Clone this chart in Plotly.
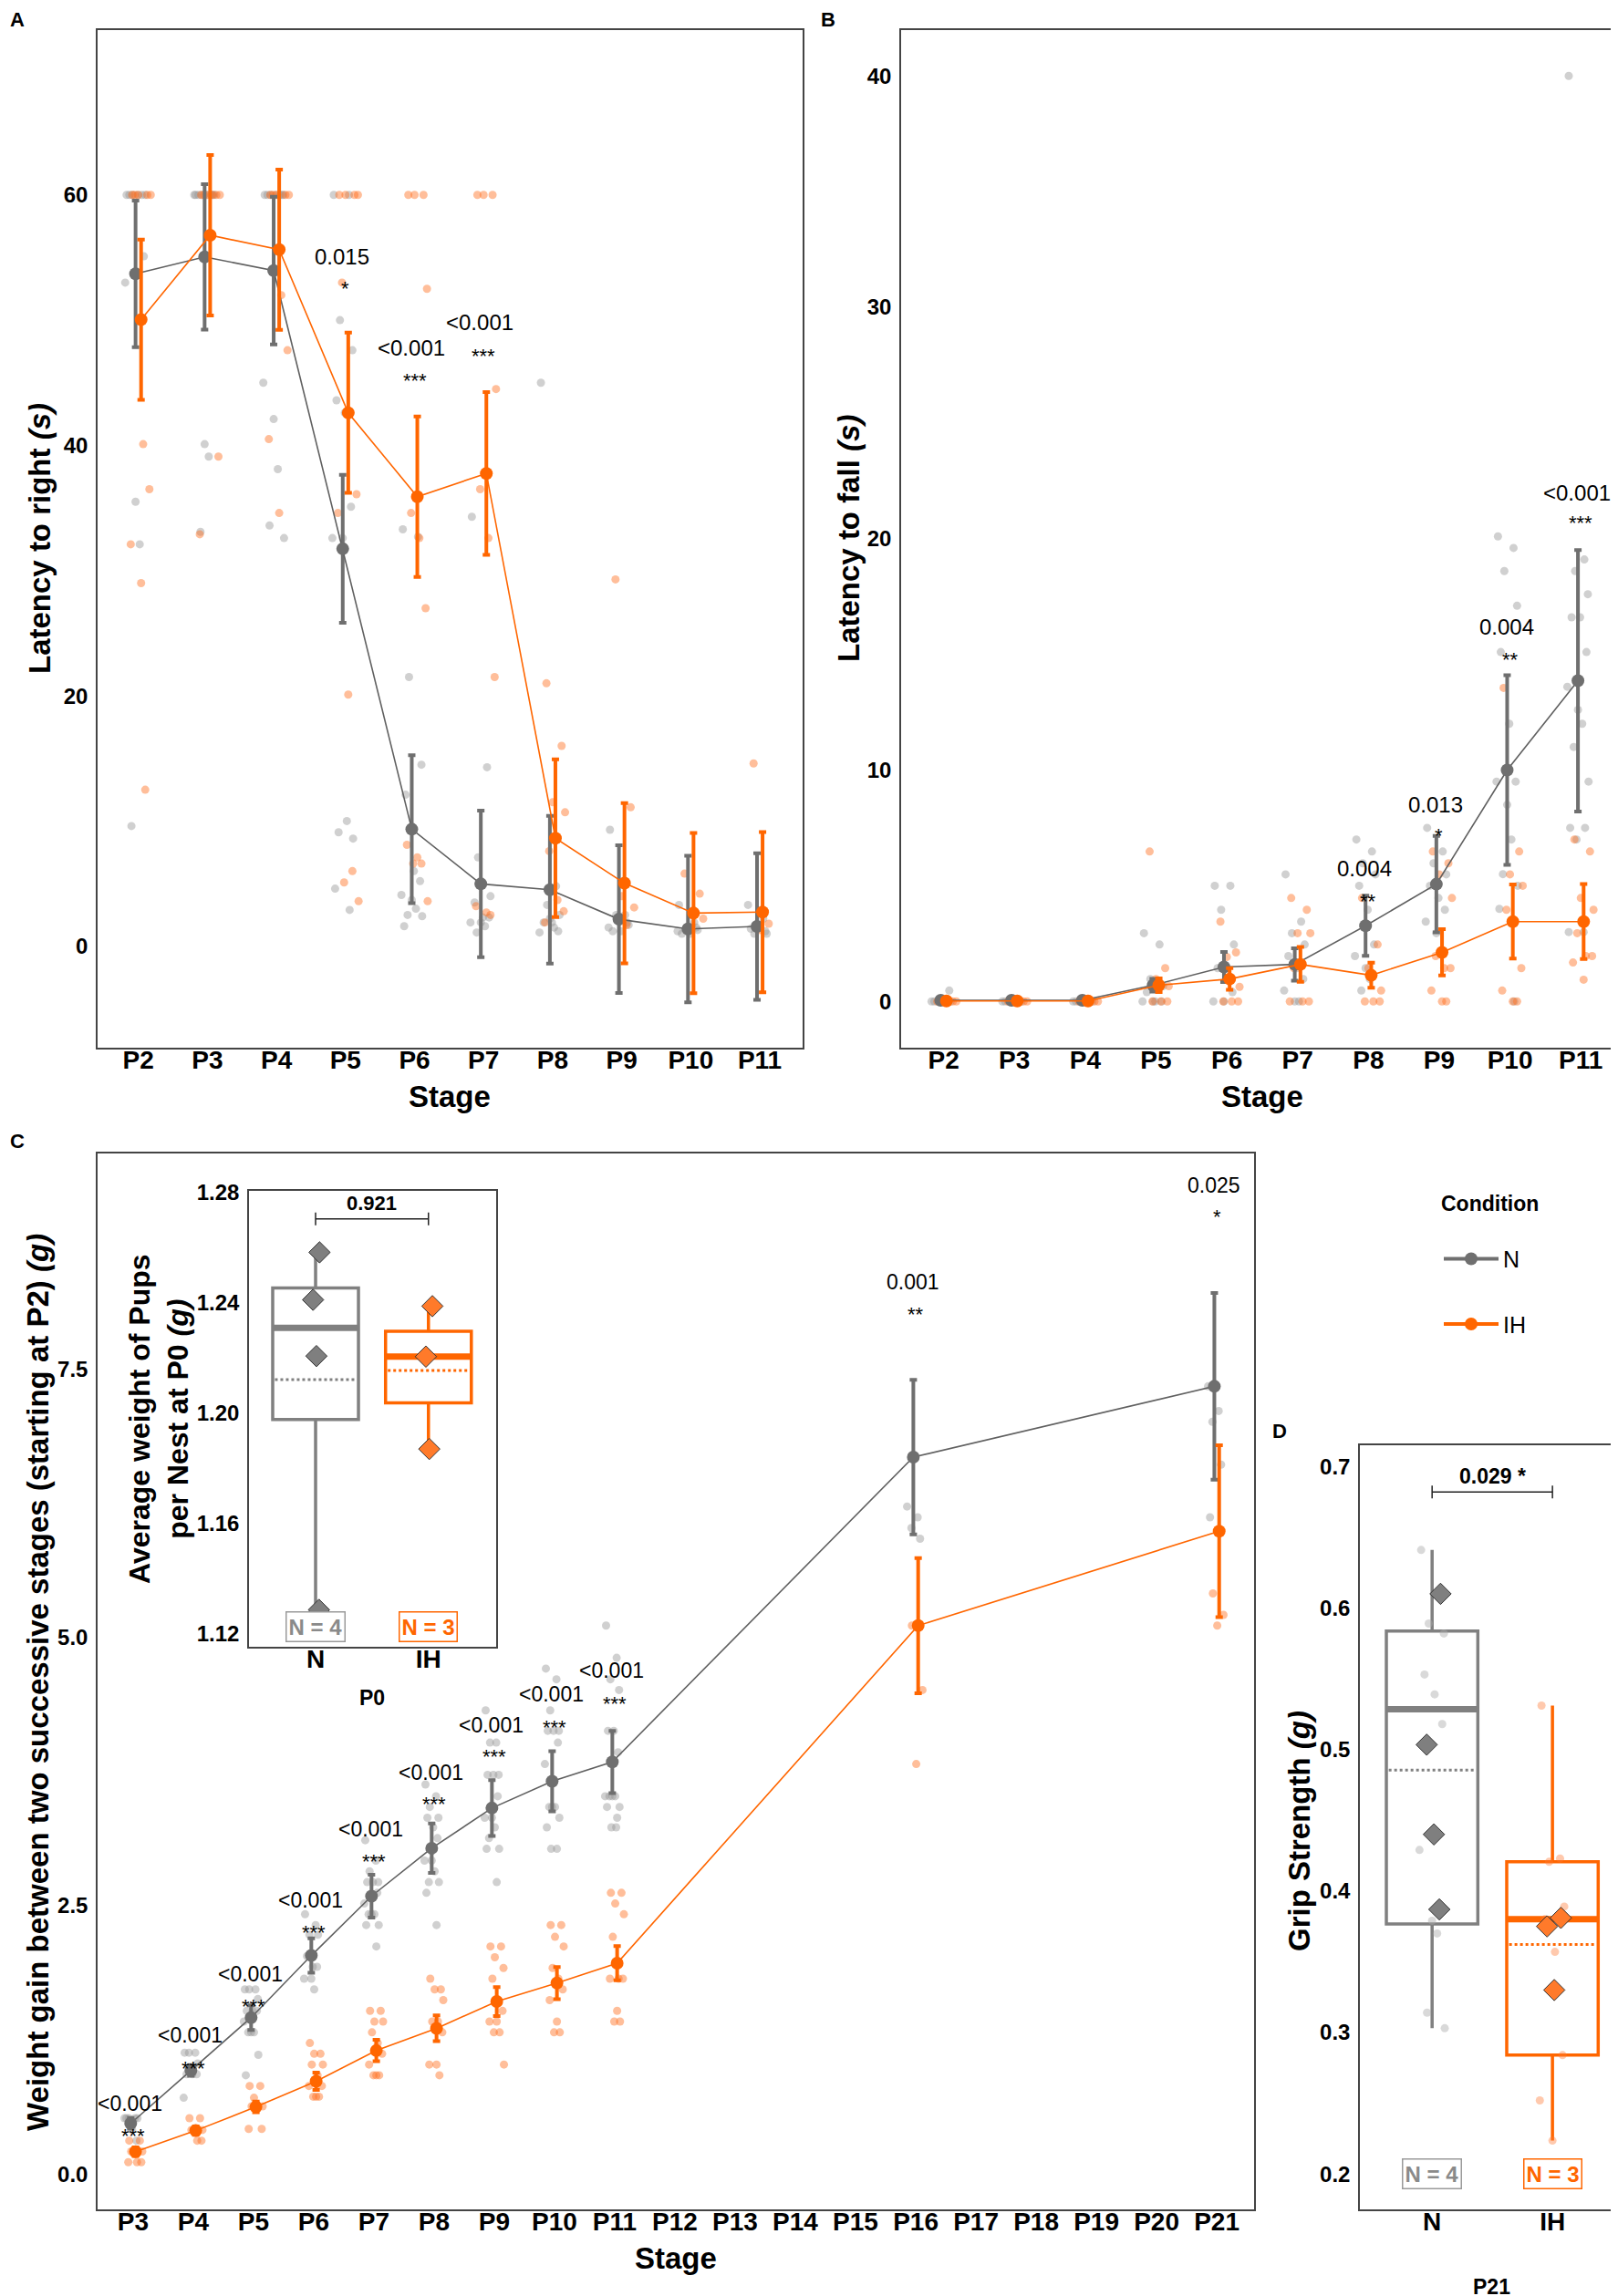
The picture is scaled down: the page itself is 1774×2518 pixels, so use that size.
import numpy as np
import plotly.graph_objects as go

W, H = 1774, 2518
FONT = "Liberation Sans, Arial, Helvetica, sans-serif"

# ======================= DATA =======================
STAGES_AB = ["P2", "P3", "P4", "P5", "P6", "P7", "P8", "P9", "P10", "P11"]

# ---- Panel A : latency to right (s)
A_N_MEAN = [53.7, 55.05, 53.96, 31.74, 9.35, 4.98, 4.52, 2.16, 1.38, 1.58]
A_N_ERR = [5.85, 5.8, 5.9, 5.9, 5.9, 5.85, 5.9, 5.9, 5.85, 5.85]
A_IH_MEAN = [50.04, 56.78, 55.63, 42.6, 35.9, 37.76, 8.63, 5.04, 2.65, 2.73]
A_IH_ERR = [6.4, 6.4, 6.4, 6.4, 6.4, 6.5, 6.3, 6.4, 6.4, 6.4]
A_N_PTS = [
    [60, 60, 60, 60, 60, 60, 55.1, 53.0, 35.5, 32.1, 9.6],
    [60, 60, 60, 60, 60, 60, 60, 60, 40.1, 39.1, 33.1],
    [60, 60, 60, 60, 60, 60, 60, 45.0, 42.1, 38.1, 33.6, 32.6],
    [60, 60, 50.0, 47.6, 43.6, 42.6, 35.1, 32.6, 32.6, 10.0, 9.1, 8.6, 4.6, 2.9],
    [33.3, 32.7, 21.5, 14.5, 12.1, 6.0, 5.2, 4.1, 3.7, 3.0, 2.5, 2.4, 1.6],
    [34.3, 14.3, 7.1, 4.0, 3.5, 2.3, 2.3, 1.9, 1.9, 1.6, 1.1],
    [45.0, 4.8, 3.3, 2.5, 1.9, 1.9, 1.2, 1.1, 2.2, 1.5],
    [9.3, 2.5, 2.5, 1.7, 1.2, 1.2, 1.9, 1.5],
    [3.3, 1.9, 1.3, 1.3, 1.0, 1.0, 1.5, 1.2],
    [3.3, 2.2, 1.0, 1.0, 1.4, 1.7, 1.2],
]
A_IH_PTS = [
    [60, 60, 60, 60, 60, 40.1, 36.5, 32.1, 29.0, 12.5],
    [60, 60, 60, 60, 60, 60, 39.1, 32.9],
    [60, 60, 60, 60, 60, 52.0, 47.6, 40.5, 34.6],
    [60, 60, 60, 60, 53.0, 42.6, 36.1, 34.6, 20.1, 6.0, 5.1, 3.6],
    [60, 60, 60, 52.5, 34.6, 32.6, 27.0, 8.1, 7.1, 6.6, 6.6, 3.6],
    [60, 60, 60, 44.5, 36.5, 32.6, 21.5, 3.2, 2.7, 2.5],
    [21.0, 16.0, 11.5, 10.7, 7.6, 3.7, 2.8, 1.9],
    [29.3, 11.1, 4.0, 3.1, 2.2, 1.7],
    [5.8, 4.2, 2.5, 2.2],
    [14.6, 1.8, 1.3],
]
A_SIG_STAGE = ["P5", "P6", "P7"]
A_SIG_P = ["0.015", "<0.001", "<0.001"]
A_SIG_STARS = ["*", "***", "***"]
A_SIG_P_Y = [55.1, 47.8, 49.8]        # label placement (data units)
A_SIG_STARS_Y = [52.95, 45.6, 47.6]

# ---- Panel B : latency to fall (s)
B_N_MEAN = [0.05, 0.05, 0.05, 0.7, 1.49, 1.6, 3.27, 5.07, 10.0, 13.86]
B_N_ERR = [0.1, 0.1, 0.1, 0.28, 0.65, 0.7, 1.3, 2.08, 4.1, 5.65]
B_IH_MEAN = [0.02, 0.02, 0.02, 0.7, 0.97, 1.6, 1.13, 2.12, 3.45, 3.45]
B_IH_ERR = [0.05, 0.05, 0.05, 0.3, 0.47, 0.75, 0.54, 1.0, 1.6, 1.62]
B_N_PTS = [
    [0, 0, 0, 0, 0, 0, 0.47],
    [0, 0, 0, 0, 0, 0],
    [0, 0, 0, 0, 0, 0],
    [2.95, 2.46, 0.97, 0.66, 0.4, 0, 0, 0, 0],
    [5.0, 5.0, 3.96, 2.46, 1.44, 0.97, 0.4, 0, 0],
    [5.49, 3.45, 2.95, 2.46, 1.96, 1.44, 0.97, 0.47, 0, 0],
    [7.0, 6.48, 5.97, 5.49, 5.0, 3.96, 2.46, 1.96, 1.44, 0.97, 0.47],
    [7.5, 6.48, 5.97, 5.49, 5.0, 4.47, 3.96, 3.45, 2.95],
    [20.1, 19.6, 18.6, 17.1, 15.1, 12.0, 9.5, 9.5, 8.5, 7.0, 5.5, 5.0, 4.0, 0],
    [40.0, 19.1, 18.6, 17.6, 16.6, 16.6, 15.1, 13.6, 12.6, 12.0, 11.0, 9.5, 7.5, 7.5, 7.0, 3.0, 3.0],
]
B_IH_PTS = [
    [0, 0, 0, 0, 0],
    [0, 0, 0, 0, 0],
    [0, 0, 0, 0, 0],
    [6.48, 1.44, 0.97, 0.66, 0, 0, 0],
    [3.45, 2.12, 1.92, 0.63, 0, 0, 0],
    [4.47, 3.96, 2.95, 2.95, 1.44, 0, 0, 0],
    [4.47, 2.46, 1.44, 0.47, 0, 0, 0],
    [6.48, 5.97, 5.49, 4.47, 1.96, 1.44, 1.44, 0.47, 0, 0],
    [13.55, 6.48, 5.49, 5.0, 3.96, 3.45, 1.44, 0.47, 0, 0],
    [7.0, 6.48, 4.47, 3.96, 2.95, 1.96, 1.96, 1.68, 0.94],
]
B_SIG_STAGE = ["P8", "P9", "P10", "P11"]
B_SIG_P = ["0.004", "0.013", "0.004", "<0.001"]
B_SIG_STARS = ["**", "*", "**", "***"]
B_SIG_P_Y = [5.73, 8.5, 16.2, 22.0]
B_SIG_STARS_Y = [4.55, 7.4, 15.0, 20.9]

# ---- Panel C : weight gain (g)
STAGES_C = ["P3", "P4", "P5", "P6", "P7", "P8", "P9", "P10", "P11", "P12",
            "P13", "P14", "P15", "P16", "P17", "P18", "P19", "P20", "P21"]
C_MEASURED = ["P3", "P4", "P5", "P6", "P7", "P8", "P9", "P10", "P11", "P16", "P21"]
C_N_MEAN = [0.471, 0.964, 1.457, 2.036, 2.589, 3.036, 3.41, 3.66, 3.84, 6.68, 7.34]
C_N_ERR = [0.05, 0.05, 0.115, 0.16, 0.2, 0.23, 0.26, 0.28, 0.29, 0.72, 0.87]
C_IH_MEAN = [0.207, 0.404, 0.625, 0.864, 1.15, 1.357, 1.607, 1.779, 1.964, 5.11, 5.99]
C_IH_ERR = [0.04, 0.04, 0.05, 0.08, 0.1, 0.12, 0.135, 0.15, 0.16, 0.63, 0.8]
C_N_PTS = [
    [0.52, 0.52, 0.52, 0.52, 0.52, 0.41, 0.31],
    [1.13, 1.13, 1.13, 1.03, 0.93, 0.93, 0.93, 0.71],
    [1.72, 1.72, 1.72, 1.63, 1.52, 1.52, 1.52, 1.42, 1.32, 1.32, 1.32, 1.11, 0.92],
    [2.42, 2.32, 2.23, 2.23, 2.03, 1.93, 1.93, 1.82, 1.82, 1.72],
    [3.11, 2.92, 2.82, 2.72, 2.72, 2.72, 2.62, 2.52, 2.42, 2.42, 2.42, 2.32, 2.32, 2.12],
    [3.63, 3.52, 3.42, 3.32, 3.32, 3.23, 3.13, 2.92, 2.92, 2.82, 2.72, 2.72, 2.62, 2.32],
    [4.32, 4.02, 4.02, 3.72, 3.72, 3.72, 3.52, 3.32, 3.32, 3.23, 3.13, 3.03, 3.03, 2.72],
    [4.71, 4.61, 4.32, 4.13, 4.13, 4.13, 4.02, 3.82, 3.42, 3.42, 3.42, 3.32, 3.23, 3.03, 3.03],
    [5.11, 4.81, 4.61, 4.51, 4.13, 4.13, 3.93, 3.52, 3.52, 3.52, 3.52, 3.42, 3.42, 3.32, 3.23, 3.23],
    [6.22, 6.12, 6.02, 5.92],
    [7.34, 7.11, 7.01, 6.61, 6.12],
]
C_IH_PTS = [
    [0.31, 0.31, 0.21, 0.21, 0.21, 0.11, 0.11, 0.11],
    [0.52, 0.52, 0.41, 0.41, 0.41, 0.31, 0.31],
    [0.82, 0.82, 0.71, 0.63, 0.63, 0.63, 0.42, 0.42],
    [1.22, 1.12, 1.12, 1.02, 1.02, 0.92, 0.82, 0.82, 0.72, 0.72, 0.72],
    [1.52, 1.52, 1.42, 1.42, 1.32, 1.22, 1.12, 1.02, 0.92, 0.92, 0.92],
    [1.82, 1.72, 1.72, 1.62, 1.42, 1.42, 1.32, 1.02, 1.02, 0.92],
    [2.12, 2.12, 2.02, 1.92, 1.82, 1.62, 1.52, 1.42, 1.42, 1.32, 1.32, 1.02],
    [2.32, 2.32, 2.21, 2.12, 1.92, 1.82, 1.72, 1.62, 1.42, 1.32, 1.32],
    [2.62, 2.62, 2.52, 2.42, 2.21, 1.82, 1.82, 1.82, 1.52, 1.42, 1.42],
    [5.11, 4.51, 3.82],
    [5.41, 5.21, 5.11],
]
C_SIG_P = ["<0.001"] * 9 + ["0.001", "0.025"]
C_SIG_STARS = ["***"] * 9 + ["**", "*"]
C_SIG_P_Y = [0.654, 1.293, 1.864, 2.55, 3.21, 3.74, 4.18, 4.47, 4.69, 8.31, 9.21]
C_SIG_STARS_Y = [0.404, 1.036, 1.614, 2.30, 2.96, 3.50, 3.94, 4.21, 4.43, 8.06, 8.97]

# ---- Inset : average pup weight per nest at P0 (g)
GROUPS = ["N", "IH"]
P0_N_NESTS = [1.2582, 1.241, 1.2206, 1.1286]
P0_IH_NESTS = [1.2387, 1.2204, 1.1869]
P0_P = "0.921"

# ---- Panel D : grip strength at P21 (g)
D_N_PUPS = [0.641, 0.609, 0.589, 0.582, 0.553, 0.539, 0.518, 0.429, 0.379, 0.370, 0.314, 0.303]
D_IH_PUPS = [0.531, 0.423, 0.4206, 0.389, 0.38, 0.357, 0.284, 0.252, 0.2236]
D_N_NESTS = [0.610, 0.5034, 0.440, 0.387]
D_IH_NESTS = [0.381, 0.375, 0.330]
D_P = "0.029 *"

# ======================= STYLE =======================
GREY = "#6f6f6f"
GREY_LINE = "#606060"
ORANGE = "#ff6600"
GREY_PT = "rgba(150,150,150,0.45)"
ORANGE_PT = "rgba(255,110,30,0.45)"
BOX_GREY = "#808080"
JITTER = [-0.13, 0.09, -0.04, 0.14, -0.09, 0.03, 0.12, -0.15, 0.0, 0.06,
          -0.06, 0.15, -0.11, 0.1, -0.02, 0.08]
DODGE = 0.04

fig = go.Figure()


def dom_x(a, b):
    return [a / W, b / W]


def dom_y(top, bottom):
    return [1 - bottom / H, 1 - top / H]


def add_points(pts_list, stage_idx, dodge, color, xa, ya, jscale=1.0):
    xs, ys = [], []
    for i, vals in zip(stage_idx, pts_list):
        for k, v in enumerate(vals):
            xs.append(i + dodge + JITTER[k % len(JITTER)] * jscale)
            ys.append(v)
    fig.add_trace(go.Scatter(x=xs, y=ys, mode="markers", xaxis=xa, yaxis=ya,
                             marker=dict(size=9, color=color, line=dict(width=0)),
                             showlegend=False, hoverinfo="skip"))


def add_means(stage_idx, means, errs, dodge, color, lcolor, xa, ya):
    fig.add_trace(go.Scatter(
        x=[i + dodge for i in stage_idx], y=means, mode="lines+markers",
        xaxis=xa, yaxis=ya,
        line=dict(color=lcolor, width=1.6),
        marker=dict(size=14, color=color),
        error_y=dict(type="data", array=errs, visible=True, color=color,
                     thickness=4, width=4),
        showlegend=False))


# legend-only traces
fig.add_trace(go.Scatter(x=[None], y=[None], mode="lines+markers", name="N",
                         legendgroup="N", line=dict(color=GREY, width=4),
                         marker=dict(size=14, color=GREY), xaxis="x", yaxis="y"))
fig.add_trace(go.Scatter(x=[None], y=[None], mode="lines+markers", name="IH",
                         legendgroup="IH", line=dict(color=ORANGE, width=4),
                         marker=dict(size=14, color=ORANGE), xaxis="x", yaxis="y"))

# ---- Panel A
idx_ab = list(range(len(STAGES_AB)))
add_points(A_N_PTS, idx_ab, -DODGE, GREY_PT, "x", "y")
add_points(A_IH_PTS, idx_ab, DODGE, ORANGE_PT, "x", "y")
add_means(idx_ab, A_N_MEAN, A_N_ERR, -DODGE, GREY, GREY_LINE, "x", "y")
add_means(idx_ab, A_IH_MEAN, A_IH_ERR, DODGE, ORANGE, ORANGE, "x", "y")

# ---- Panel B
add_points(B_N_PTS, idx_ab, -DODGE, GREY_PT, "x2", "y2")
add_points(B_IH_PTS, idx_ab, DODGE, ORANGE_PT, "x2", "y2")
add_means(idx_ab, B_N_MEAN, B_N_ERR, -DODGE, GREY, GREY_LINE, "x2", "y2")
add_means(idx_ab, B_IH_MEAN, B_IH_ERR, DODGE, ORANGE, ORANGE, "x2", "y2")

# ---- Panel C
idx_c = [STAGES_C.index(s) for s in C_MEASURED]
add_points(C_N_PTS, idx_c, -DODGE, GREY_PT, "x3", "y3", 0.8)
add_points(C_IH_PTS, idx_c, DODGE, ORANGE_PT, "x3", "y3", 0.8)
add_means(idx_c, C_N_MEAN, C_N_ERR, -DODGE, GREY, GREY_LINE, "x3", "y3")
add_means(idx_c, C_IH_MEAN, C_IH_ERR, DODGE, ORANGE, ORANGE, "x3", "y3")


def add_box(vals, pos, color, xa, ya, half=0.38):
    v = np.asarray(vals, dtype=float)
    q1, med, q3 = (float(np.percentile(v, p)) for p in (25, 50, 75))
    iqr = q3 - q1
    lo = float(v[v >= q1 - 1.5 * iqr].min())
    hi = float(v[v <= q3 + 1.5 * iqr].max())
    mean = float(v.mean())
    fig.add_trace(go.Box(x=[pos], q1=[q1], median=[med], q3=[q3],
                         lowerfence=[lo], upperfence=[hi], xaxis=xa, yaxis=ya,
                         width=2 * half, boxpoints=False, whiskerwidth=0,
                         fillcolor="white",
                         line=dict(color=color, width=3.5), showlegend=False,
                         hoverinfo="skip"))
    fig.add_trace(go.Scatter(x=[pos - half, pos + half], y=[med, med], mode="lines",
                             xaxis=xa, yaxis=ya, line=dict(color=color, width=7),
                             showlegend=False, hoverinfo="skip"))
    fig.add_trace(go.Scatter(x=[pos - half + 0.02, pos + half - 0.02], y=[mean, mean],
                             mode="lines", xaxis=xa, yaxis=ya,
                             line=dict(color=color, width=3, dash="dot"),
                             showlegend=False, hoverinfo="skip"))


def add_diamonds(vals, pos, fill, xa, ya, jscale):
    xs = [pos + JITTER[(k + 3) % len(JITTER)] * jscale for k in range(len(vals))]
    fig.add_trace(go.Scatter(x=xs, y=vals, mode="markers", xaxis=xa, yaxis=ya,
                             marker=dict(symbol="diamond", size=18, color=fill,
                                         line=dict(color="#333333", width=1)),
                             showlegend=False, hoverinfo="skip"))


# ---- Inset (P0)
add_box(P0_N_NESTS, 0, BOX_GREY, "x4", "y4")
add_box(P0_IH_NESTS, 1, ORANGE, "x4", "y4")
add_diamonds(P0_N_NESTS, 0, "#7f7f7f", "x4", "y4", 0.25)
add_diamonds(P0_IH_NESTS, 1, "#ff7a2a", "x4", "y4", 0.25)

# ---- Panel D (P21)
add_box(D_N_PUPS, 0, BOX_GREY, "x5", "y5")
add_box(D_IH_PUPS, 1, ORANGE, "x5", "y5")
add_points([D_N_PUPS], [0], 0, "rgba(170,170,170,0.45)", "x5", "y5", 0.7)
add_points([D_IH_PUPS], [1], 0, "rgba(255,120,50,0.4)", "x5", "y5", 0.7)
add_diamonds(D_N_NESTS, 0, "#7f7f7f", "x5", "y5", 0.5)
add_diamonds(D_IH_NESTS, 1, "#ff7a2a", "x5", "y5", 0.5)

# ======================= AXES =======================
LINEC = "#444444"


def xax(domain, rng, labels, anchor, size=28):
    return dict(domain=domain, range=rng, anchor=anchor,
                tickmode="array", tickvals=list(range(len(labels))), ticktext=labels,
                showline=True, mirror=True, linecolor=LINEC, linewidth=1.5,
                ticks="", showgrid=False, zeroline=False, ticklabelstandoff=-12,
                tickfont=dict(family=FONT, size=size, color="black", weight="bold"))


def yax(domain, rng, vals, fmt, anchor, size=24):
    return dict(domain=domain, range=rng, anchor=anchor,
                tickmode="array", tickvals=vals, tickformat=fmt,
                showline=True, mirror=True, linecolor=LINEC, linewidth=1.5,
                ticks="", showgrid=False, zeroline=False, ticklabelstandoff=4,
                tickfont=dict(family=FONT, size=size, color="black", weight="bold"))


fig.update_layout(
    xaxis=xax(dom_x(99, 872), [-0.59, 9.62], STAGES_AB, "y"),
    yaxis=yax(dom_y(24.5, 1141), [-8.1, 73.2], [0, 20, 40, 60], "d", "x"),
    xaxis2=xax(dom_x(980, 1771), [-0.6, 9.59], STAGES_AB, "y2"),
    yaxis2=yax(dom_y(24.5, 1141), [-2.0, 42.0], [0, 10, 20, 30, 40], "d", "x2"),
    xaxis3=xax(dom_x(99, 1367), [-0.59, 18.62], STAGES_C, "y3"),
    yaxis3=yax(dom_y(1257, 2415), [-0.33, 9.51], [0, 2.5, 5.0, 7.5], ".1f", "x3"),
    xaxis4=xax(dom_x(265, 536), [-0.59, 1.6], GROUPS, "y4"),
    yaxis4=yax(dom_y(1298, 1798), [1.1152, 1.2805], [1.12, 1.16, 1.20, 1.24, 1.28], ".2f", "x4"),
    xaxis5=xax(dom_x(1483, 1772), [-0.6, 1.59], GROUPS, "y5"),
    yaxis5=yax(dom_y(1577, 2415), [0.175, 0.715], [0.2, 0.3, 0.4, 0.5, 0.6, 0.7], ".1f", "x5"),
)

# ======================= ANNOTATIONS =======================
anns = []


def pann(xp, yp, text, size, bold=True, angle=0, color="black"):
    t = f"<b>{text}</b>" if bold else text
    anns.append(dict(x=xp / W, y=1 - yp / H, xref="paper", yref="paper", text=t,
                     showarrow=False, textangle=angle, xanchor="center", yanchor="middle",
                     font=dict(family=FONT, size=size, color=color)))


def dann(x, y, text, xa, ya, size=23, yshift=0, bold=False, color="black", **kw):
    t = f"<b>{text}</b>" if bold else text
    d = dict(x=x, y=y, xref=xa, yref=ya, text=t, showarrow=False,
             xanchor="center", yanchor="middle", yshift=yshift,
             font=dict(family=FONT, size=size, color=color))
    d.update(kw)
    anns.append(d)


# panel letters
pann(11, 14, "A", 22)
pann(900, 14, "B", 22)
pann(11, 1244, "C", 22)
pann(1395, 1561, "D", 22)

# axis titles
pann(35, 583, "Latency to right <i>(s)</i>", 33, angle=-90)
pann(922, 583, "Latency to fall <i>(s)</i>", 33, angle=-90)
pann(33, 1837, "Weight gain between two successive stages (starting at P2) <i>(g)</i>", 33, angle=-90)
anns.append(dict(x=166 / W, y=1 - 1548 / H, xref="paper", yref="paper",
                 text="<b>Average weight of Pups<br>per Nest at P0 <i>(g)</i></b>",
                 showarrow=False, textangle=-90, xanchor="center", yanchor="middle",
                 font=dict(family=FONT, size=32, color="black")))
pann(1416, 2000, "Grip Strength <i>(g)</i>", 33, angle=-90)
pann(485, 1195, "Stage", 33)
pann(1376, 1195, "Stage", 33)
pann(733, 2468, "Stage", 33)
pann(400, 1854, "P0", 23)
pann(1627, 2500, "P21", 23)

# significance labels
for s, p, st, py, sy in zip(A_SIG_STAGE, A_SIG_P, A_SIG_STARS, A_SIG_P_Y, A_SIG_STARS_Y):
    i = STAGES_AB.index(s)
    dann(i - 0.05, py, p, "x", "y", 24)
    dann(i, sy, st, "x", "y", 22, yshift=-6)
for s, p, st, py, sy in zip(B_SIG_STAGE, B_SIG_P, B_SIG_STARS, B_SIG_P_Y, B_SIG_STARS_Y):
    i = STAGES_AB.index(s)
    dann(i - 0.05, py, p, "x2", "y2", 24)
    dann(i, sy, st, "x2", "y2", 22, yshift=-6)
for i, p, st, py, sy in zip(idx_c, C_SIG_P, C_SIG_STARS, C_SIG_P_Y, C_SIG_STARS_Y):
    dann(i - 0.05, py, p, "x3", "y3", 23)
    dann(i, sy, st, "x3", "y3", 22, yshift=-6)

# brackets with p-values
shapes = []


def bracket(xa, ya, yv, text, size):
    shapes.append(dict(type="line", xref=xa, yref=ya, x0=0, x1=1, y0=yv, y1=yv,
                       line=dict(color="#222222", width=1.5)))
    for xv in (0, 1):
        shapes.append(dict(type="line", xref=xa, yref=ya, x0=xv, x1=xv,
                           ysizemode="pixel", yanchor=yv, y0=-7, y1=7,
                           line=dict(color="#222222", width=1.5)))
    dann(0.5, yv, text, xa, ya, size, yshift=17, bold=True)


bracket("x4", "y4", 1.2703, P0_P, 22)
bracket("x5", "y5", 0.682, D_P, 23)

# N = ... boxes
for xa, ya, yv in (("x4", "y4", 1.1225), ("x5", "y5", 0.2)):
    dann(0, yv, f"N = {len(P0_N_NESTS) if xa == 'x4' else len(D_N_NESTS)}", xa, ya, 24,
         bold=True, color="#8a8a8a", bordercolor="#9a9a9a", borderwidth=1.5,
         borderpad=2, bgcolor="white")
    dann(1, yv, f"N = {len(P0_IH_NESTS) if xa == 'x4' else len(D_IH_NESTS)}", xa, ya, 24,
         bold=True, color=ORANGE, bordercolor=ORANGE, borderwidth=1.5,
         borderpad=2, bgcolor="white")

fig.update_layout(
    width=W, height=H, margin=dict(l=0, r=0, t=0, b=0, autoexpand=False),
    paper_bgcolor="white", plot_bgcolor="white",
    font=dict(family=FONT, color="black"),
    annotations=anns, shapes=shapes,
    showlegend=True,
    legend=dict(x=1570 / W, y=1 - 1290 / H, xanchor="left", yanchor="top",
                bgcolor="rgba(0,0,0,0)", tracegroupgap=36,
                font=dict(family=FONT, size=25, color="black"),
                title=dict(text="<b>Condition</b><br> ", font=dict(family=FONT, size=23)),
                itemwidth=60),
)

fig.write_html("out.html")
